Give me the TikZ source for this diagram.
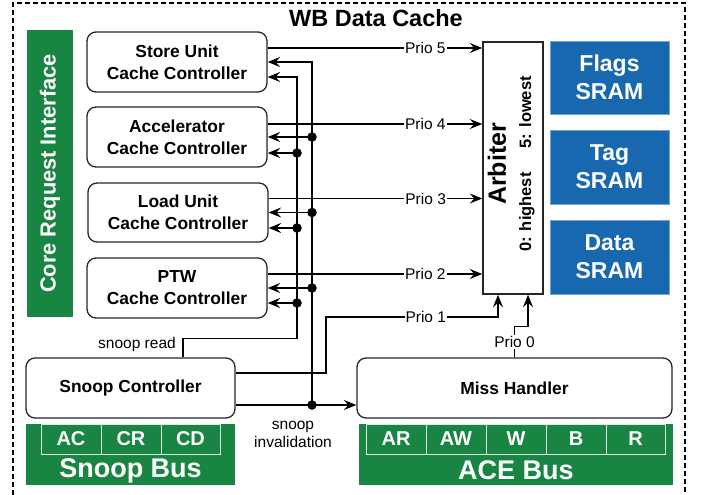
\documentclass[tikz,border=0pt]{standalone}
\usepackage{fontspec}
\setmainfont{Liberation Sans}
\usetikzlibrary{arrows.meta,calc}
\definecolor{cgreen}{HTML}{188642}
\definecolor{cblue}{HTML}{1868B0}
\begin{document}
\begin{tikzpicture}[x=1pt,y=-1pt,
  box/.style={draw=black!85, line width=1.3pt, rounded corners=9pt, fill=white, align=center,
    font=\fontsize{17.4}{22}\selectfont\bfseries, inner sep=0pt},
  sram/.style={fill=cblue, draw=cblue!60!white, line width=0.8pt, text=white, align=center,
    font=\fontsize{23}{28}\selectfont\bfseries, minimum width=119pt, inner sep=0pt},
  busbar/.style={fill=cgreen, inner sep=0pt},
  cell/.style={draw=white!85!cgreen, line width=0.8pt, text=white, inner sep=0pt,
    minimum height=30pt, font=\fontsize{20}{24}\selectfont\bfseries},
  busname/.style={text=white, font=\fontsize{27}{32}\selectfont\bfseries, inner sep=0pt},
  wire/.style={line width=1.3pt},
  arr/.style={wire, -{Stealth[length=12.5pt,width=10pt,inset=4.5pt]}},
  lbl/.style={font=\fontsize{15.5}{18}\selectfont, fill=white, inner sep=1pt},
  small/.style={font=\fontsize{15.5}{18}\selectfont, inner sep=0pt, align=center},
  dot/.style={circle, fill=black, inner sep=0pt, minimum size=9.5pt},
]
\useasboundingbox (0,0) rectangle (702,495);
% outer dashed border
\draw[line width=1.3pt, dash pattern=on 5pt off 3pt] (13,495) -- (13,3) -- (685,3) -- (685,495);
\node[font=\fontsize{23.5}{28}\selectfont\bfseries, inner sep=0pt] (title) at (376,18.5) {WB Data Cache};

% core request interface
\node[busbar, minimum width=46pt, minimum height=287pt] (cri) at (50,173.5) {};
\node[rotate=90, text=white, font=\fontsize{21.8}{26}\selectfont\bfseries, inner sep=0pt] (crit) at (cri.center) {Core Request Interface};

% cache controllers
\node[box, minimum width=180pt, minimum height=60pt] (su) at (177,62) {Store Unit\\Cache Controller};
\node[box, minimum width=180pt, minimum height=60pt] (acc) at (177,137) {Accelerator\\Cache Controller};
\node[box, minimum width=180pt, minimum height=59pt] (lu) at (178,212.5) {Load Unit\\Cache Controller};
\node[box, minimum width=180pt, minimum height=60pt] (ptw) at (177,288) {PTW\\Cache Controller};

\node[box, minimum width=209pt, minimum height=60pt] (sc) at (130.5,388) {Snoop Controller};
\node[box, minimum width=315pt, minimum height=60pt] (mh) at (514.5,388) {Miss Handler};

% arbiter
\node[draw=black!85, line width=1.5pt, fill=white, minimum width=60pt, minimum height=252pt, inner sep=0pt] (arb) at (513,168) {};
\node[rotate=90, font=\fontsize{25}{30}\selectfont\bfseries, inner sep=0pt] (arbt) at ([xshift=-16pt,yshift=4pt]arb.center) {Arbiter};
\node[rotate=90, font=\fontsize{16.5}{19}\selectfont\bfseries, inner sep=0pt] (arbp) at ([xshift=14pt,yshift=4pt]arb.center) {0: highest\hspace{24pt}5: lowest};

% SRAMs
\node[sram, minimum height=73pt] (flags) at (609.5,77.5) {Flags\\SRAM};
\node[sram, minimum height=74pt] (tag) at (609.5,167) {Tag\\SRAM};
\node[sram, minimum height=74pt] (data) at (609.5,257) {Data\\SRAM};

% snoop bus
\node[busbar, minimum width=209pt, minimum height=61pt] (sbus) at (130.5,454.5) {};
\node[cell, minimum width=60pt] (ac) at (71,439) {AC};
\node[cell, minimum width=60pt] (cr) at (131,439) {CR};
\node[cell, minimum width=59pt] (cd) at (190.5,439) {CD};
\node[busname] (sbust) at (130.5,470.5) {Snoop Bus};

% ACE bus
\node[busbar, minimum width=314pt, minimum height=61pt] (abus) at (516,454.5) {};
\node[cell, minimum width=60pt] (ar) at (396,439) {AR};
\node[cell, minimum width=60pt] (aw) at (456,439) {AW};
\node[cell, minimum width=60pt] (w) at (516,439) {W};
\node[cell, minimum width=60pt] (b) at (576,439) {B};
\node[cell, minimum width=59pt] (r) at (635.5,439) {R};
\node[busname] (abust) at (516,470.5) {ACE Bus};

% requests to arbiter
\coordinate (p5) at ([yshift=14pt]su.east);
\coordinate (p4) at ([yshift=13pt]acc.east);
\coordinate (p3) at ([yshift=14pt]lu.east);
\coordinate (p2) at ([yshift=14pt]ptw.east);
\draw[arr] (p5) -- node[lbl, pos=0.735] {Prio 5} (p5 -| arb.west);
\draw[arr] (p4) -- node[lbl, pos=0.735] {Prio 4} (p4 -| arb.west);
\draw[arr] (p3) -- node[lbl, pos=0.735] {Prio 3} (p3 -| arb.west);
\draw[arr] (p2) -- node[lbl, pos=0.735] {Prio 2} (p2 -| arb.west);

% snoop controller -> arbiter (Prio 1)
\coordinate (p1) at ([yshift=15pt]sc.east);
\coordinate (k1) at (326,317);
\coordinate (a1) at ([xshift=-15pt]arb.south);
\draw[arr] (p1) -| (k1) -- node[lbl, pos=0.58] {Prio 1} (k1 -| a1) -- (a1);

% miss handler -> arbiter (Prio 0)
\coordinate (a0) at ([xshift=15pt]arb.south);
\coordinate (k0) at ([yshift=31pt]mh.north);
\draw[arr] (mh.north) -- node[lbl, pos=0.5] {Prio 0} (k0) -| (a0);

% snoop invalidation bus
\coordinate (busA) at (312,0);
\coordinate (busB) at (297,0);
\coordinate (inv) at ([yshift=-17pt]sc.east);
\draw[arr] (inv) -- (inv -| mh.west);
\node[dot] (dA0) at (inv -| busA) {};
\draw[arr] (dA0.center) -- (busA |- su.east) -- (su.east);
\node[dot] (dA1) at (busA |- acc.east) {};
\node[dot] (dA2) at (busA |- lu.east) {};
\node[dot] (dA3) at (busA |- ptw.east) {};
\draw[arr] (dA1.center) -- (acc.east);
\draw[arr] (dA2.center) -- (lu.east);
\draw[arr] (dA3.center) -- (ptw.east);
\node[small] (invl) at (293,434) {snoop\\invalidation};

% snoop read bus
\coordinate (sr) at ([xshift=52.5pt]sc.north);
\coordinate (srk) at ([yshift=19pt]sr);
\coordinate (suL) at ([yshift=-15pt]su.east);
\coordinate (accL) at ([yshift=-16pt]acc.east);
\coordinate (luL) at ([yshift=-15.5pt]lu.east);
\coordinate (ptwL) at ([yshift=-15pt]ptw.east);
\draw[arr] (sr) -- (srk) -- (srk -| busB) -- (busB |- suL) -- (suL);
\node[dot] (dB1) at (busB |- accL) {};
\node[dot] (dB2) at (busB |- luL) {};
\node[dot] (dB3) at (busB |- ptwL) {};
\draw[arr] (dB1.center) -- (accL);
\draw[arr] (dB2.center) -- (luL);
\draw[arr] (dB3.center) -- (ptwL);
\node[small] (srl) at (137,344) {snoop read};
\end{tikzpicture}
\end{document}
